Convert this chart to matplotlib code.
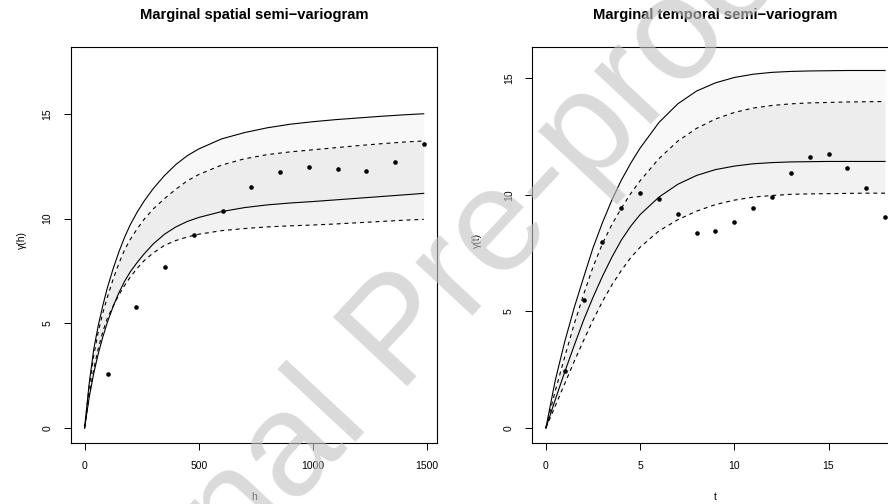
import matplotlib
matplotlib.use("Agg")
import matplotlib.pyplot as plt

plt.rcParams['font.family'] = ['Liberation Sans', 'DejaVu Sans']

# ---------------- spatial panel data ----------------
h_grid = [0, 20, 40, 60, 80, 100, 125, 150, 175, 200, 230, 260, 300, 350, 400,
          450, 500, 600, 700, 800, 900, 1000, 1100, 1200, 1300, 1400, 1485]
sp_solid_hi = [0, 2.1, 3.75, 4.9, 5.85, 6.7, 7.6, 8.4, 9.1, 9.7, 10.3, 10.82, 11.42,
               12.05, 12.58, 13.0, 13.32, 13.8, 14.1, 14.33, 14.5, 14.62, 14.72,
               14.8, 14.88, 14.95, 15.0]
sp_dash_hi = [0, 1.95, 3.45, 4.6, 5.5, 6.25, 7.1, 7.85, 8.5, 9.0, 9.5, 9.95, 10.45,
              10.95, 11.4, 11.8, 12.1, 12.55, 12.85, 13.05, 13.18, 13.28, 13.38,
              13.48, 13.57, 13.65, 13.7]
sp_solid_lo = [0, 1.45, 2.6, 3.55, 4.35, 5.05, 5.8, 6.45, 7.0, 7.45, 7.9, 8.3, 8.78,
               9.25, 9.6, 9.86, 10.05, 10.33, 10.52, 10.65, 10.74, 10.81, 10.89,
               10.97, 11.05, 11.13, 11.2]
sp_dash_lo = [0, 1.55, 2.8, 3.8, 4.6, 5.25, 5.82, 6.35, 6.8, 7.2, 7.62, 7.98, 8.35,
              8.72, 8.95, 9.12, 9.25, 9.42, 9.52, 9.6, 9.65, 9.69, 9.74, 9.8, 9.86,
              9.92, 9.96]
sp_lag = [101, 227, 352, 478, 604, 730, 856, 982, 1108, 1234, 1360, 1485]
sp_emp = [2.56, 5.76, 7.69, 9.19, 10.35, 11.48, 12.21, 12.47, 12.37, 12.28, 12.71, 13.54]

# ---------------- temporal panel data ----------------
t_grid = [0, 0.5, 1, 1.5, 2, 2.5, 3, 3.5, 4, 4.5, 5, 6, 7, 8, 9, 10, 11, 12, 13,
          14, 15, 16, 17, 18]
tm_solid_hi = [0, 2.05, 3.7, 5.15, 6.45, 7.72, 8.8, 9.77, 10.62, 11.35, 12.0, 13.1,
               13.9, 14.45, 14.8, 15.03, 15.17, 15.25, 15.29, 15.31, 15.32, 15.33,
               15.33, 15.33]
tm_dash_hi = [0, 1.6, 3.05, 4.45, 5.72, 6.9, 7.9, 8.72, 9.42, 10.05, 10.6, 11.55,
              12.3, 12.85, 13.25, 13.53, 13.72, 13.83, 13.9, 13.94, 13.96, 13.98,
              13.99, 14.0]
tm_solid_lo = [0, 1.22, 2.4, 3.53, 4.62, 5.6, 6.5, 7.32, 8.05, 8.65, 9.15, 9.9,
               10.45, 10.83, 11.08, 11.23, 11.33, 11.38, 11.41, 11.42, 11.43, 11.43,
               11.43, 11.43]
tm_dash_lo = [0, 0.95, 1.9, 2.85, 3.75, 4.62, 5.42, 6.13, 6.75, 7.3, 7.75, 8.45,
              8.93, 9.3, 9.58, 9.77, 9.9, 9.97, 10.02, 10.04, 10.05, 10.06, 10.07,
              10.07]
tm_lag = [1, 2, 3, 4, 5, 6, 7, 8, 9, 10, 11, 12, 13, 14, 15, 16, 17, 18]
tm_emp = [2.43, 5.5, 7.99, 9.42, 10.09, 9.81, 9.16, 8.37, 8.44, 8.83, 9.44, 9.91,
          10.93, 11.64, 11.73, 11.17, 10.29, 9.03]

titles = ["Marginal spatial semi\u2212variogram", "Marginal temporal semi\u2212variogram"]
xlabels = ["h", "t"]
ylabels = ["\u03b3(h)", "\u03b3(t)"]
xticks = [[0, 500, 1000, 1500], [0, 5, 10, 15]]
yticks = [[0, 5, 10, 15], [0, 5, 10, 15]]
watermark = "Journal Pre-proof"

W, H = 888, 504
fig = plt.figure(figsize=(W / 100, H / 100), dpi=100)

ax_h = 396.0 / H
ax_w = 366.3 / W
ax_b = 1 - 442.7 / H
axL = fig.add_axes([71.0 / W, ax_b, ax_w, ax_h])
axR = fig.add_axes([532.3 / W, ax_b, ax_w, ax_h])

panels = [
    (axL, h_grid, sp_solid_hi, sp_dash_hi, sp_solid_lo, sp_dash_lo, sp_lag, sp_emp,
     (-59.4, 1544.4), (-0.70, 18.2), 49.0),
    (axR, t_grid, tm_solid_hi, tm_dash_hi, tm_solid_lo, tm_dash_lo, tm_lag, tm_emp,
     (-0.72, 18.72), (-0.629, 16.35), 55.0),
]

for i, (ax, xg, shi, dhi, slo, dlo, lag, emp, xl, yl, yoff) in enumerate(panels):
    ax.fill_between(xg, slo, shi, color='#f8f8f8', lw=0, zorder=1)
    ax.fill_between(xg, dlo, dhi, color='#d5d5d5', alpha=0.29, lw=0, zorder=2)
    ax.plot(xg, shi, color='black', lw=0.8, zorder=3)
    ax.plot(xg, slo, color='black', lw=0.8, zorder=3)
    ax.plot(xg, dhi, color='black', lw=0.8, ls=(0, (3.5, 3.5)), zorder=3)
    ax.plot(xg, dlo, color='black', lw=0.8, ls=(0, (3.5, 3.5)), zorder=3)
    ax.plot(lag, emp, 'o', color='black', ms=3.3, mew=0, zorder=4)
    ax.set_xlim(*xl)
    ax.set_ylim(*yl)
    ax.set_xticks(xticks[i])
    ax.set_yticks(yticks[i])
    ax.tick_params(direction='out', length=5, width=0.7, labelsize=7.5, pad=8.3,
                   colors='black')
    for lab in ax.get_yticklabels():
        lab.set_rotation(90)
        lab.set_va('center')
    for sp in ax.spines.values():
        sp.set_linewidth(0.8)
    ax.set_title(titles[i], fontsize=10.6, fontweight='bold', pad=0,
                 y=1 + (46.7 - 15.0) / 396.0, va='center')
    ax.set_xlabel(xlabels[i], fontsize=7.5)
    ax.xaxis.set_label_coords(0.5, -(497 - 442.7) / 396.0)
    ax.xaxis.label.set_va('center')
    ax.set_ylabel(ylabels[i], fontsize=7.5)
    ax.yaxis.set_label_coords(-yoff / 366.3, (442.7 - 240.0) / 396.0)
    ax.yaxis.label.set_va('center')

fig.text(430 / W, 1 - 362 / H, watermark, fontsize=106, rotation=47,
         rotation_mode='anchor', ha='center', va='baseline', color='#c4c4c4',
         alpha=0.62, zorder=10, family=['Liberation Sans', 'DejaVu Sans'])

fig.savefig("out.png", dpi=100)
